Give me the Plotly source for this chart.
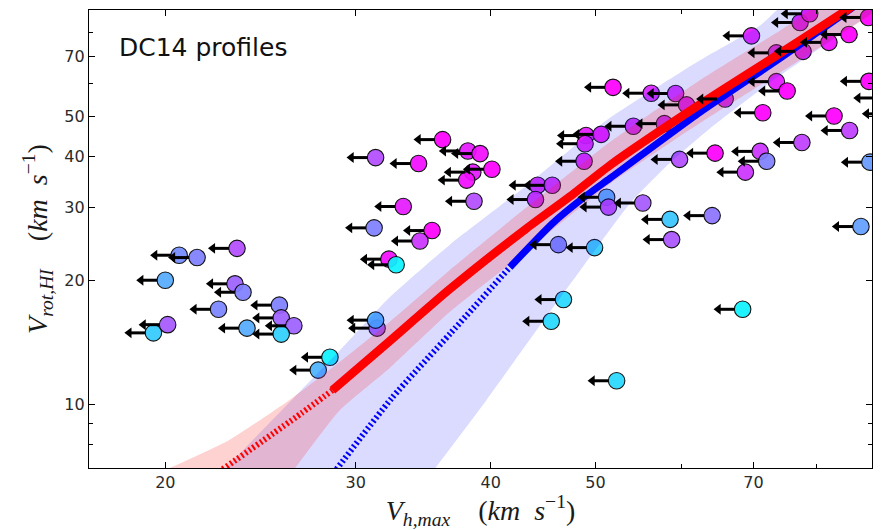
import numpy as np
import plotly.graph_objects as go

# ---------------- data ----------------
# galaxies: V_h,max (upper limits, km/s), V_rot,HI (km/s), colour value (cool map 0..1)
vh = [23.3, 20.6, 21.4, 20.0, 23.2, 23.6, 22.4, 25.5, 25.6, 26.3, 23.8, 25.6, 19.5, 20.1, 28.4, 27.7,
      31.3, 34.3, 36.1, 38.1, 39.1, 40.1, 38.5, 38.0, 38.6, 33.2, 31.2, 35.3, 34.4, 32.2, 32.7, 31.4, 31.3,
      44.2, 45.6, 44.0, 46.2, 49.9, 46.7, 45.5, 52.3, 49.0, 50.6, 48.9, 48.8, 51.2, 51.4,
      51.9, 56.3, 59.3, 60.7, 54.2, 57.9, 65.9, 73.5, 75.2, 71.4, 83.1, 85.9, 77.6, 64.5, 71.0, 72.0,
      59.8, 68.8, 55.3, 58.6, 64.1, 58.8, 88.0, 68.4, 69.7, 77.3, 78.9, 82.2, 85.8, 77.8, 73.5,
      89.4, 89.5, 89.7, 92.1, 93.8]
vrot = [23.9, 23.0, 22.7, 20.0, 19.6, 18.7, 17.0, 17.4, 16.2, 15.5, 15.3, 14.8, 14.9, 15.6, 13.0, 12.1,
        39.7, 38.4, 43.9, 41.2, 40.6, 37.2, 36.6, 35.0, 31.1, 30.2, 26.8, 26.4, 24.9, 22.5, 21.8, 15.3, 16.0,
        34.0, 34.0, 31.4, 24.4, 24.0, 17.95, 15.9, 11.4, 44.9, 45.2, 42.9, 38.9, 31.8, 30.1,
        58.8, 56.9, 56.8, 53.3, 47.3, 48.0, 55.1, 60.7, 57.6, 51.0, 50.1, 46.2, 43.2, 40.7, 41.1, 38.9,
        39.3, 36.6, 30.8, 28.1, 28.7, 25.1, 27.0, 17.0, 78.4, 84.5, 88.7, 75.6, 79.0, 71.9, 71.3,
        86.9, 60.8, 38.7, 55.4, 50.7]
cval = [0.70, 0.45, 0.50, 0.33, 0.62, 0.50, 0.48, 0.50, 0.62, 0.62, 0.33, 0.18, 0.20, 0.65, 0.05, 0.30,
        0.70, 0.95, 1.00, 0.90, 0.95, 1.00, 0.90, 0.95, 0.70, 0.90, 0.50, 1.00, 0.80, 0.95, 0.05, 0.65, 0.30,
        0.85, 0.85, 0.85, 0.50, 0.20, 0.15, 0.15, 0.15, 0.90, 0.95, 0.90, 0.90, 0.35, 0.75,
        1.00, 0.85, 0.85, 0.90, 0.85, 0.85, 0.85, 0.90, 1.00, 1.00, 1.00, 0.75, 0.75, 1.00, 0.80, 0.50,
        0.70, 0.80, 0.65, 0.22, 0.55, 0.67, 0.38, 0.05, 0.90, 0.90, 0.95, 0.95, 1.00, 0.90, 0.85,
        1.00, 1.00, 0.40, 1.00, 1.00]

# DC14 relations (red) and second relation (blue); dotted below the solid_from value
red_x = [22.6, 26.73, 28.55, 32.18, 36.64, 43.18, 47.64, 51.55, 62.45, 74.06, 84.73, 87.8]
red_y = [6.95, 9.51, 10.81, 14.16, 19.01, 26.74, 32.33, 38.02, 53.45, 71.1, 89.4, 95.0]
red_solid_from = 28.55
blue_x = [28.8, 32.39, 36.72, 41.66, 45.63, 48.66, 51.55, 62.45, 74.06, 84.73, 87.5]
blue_y = [6.95, 10.34, 14.87, 21.50, 27.49, 31.62, 35.34, 51.1, 69.1, 88.4, 94.0]
blue_solid_from = 41.66

# scatter bands (upper / lower edges)
red_up_x = [19.7, 22.9, 26.0, 28.7, 32.2, 36.6, 43.2, 51.5, 62.4, 74.1, 83.3]
red_up_y = [6.8, 8.18, 10.2, 12.4, 15.8, 21.1, 30.1, 43.2, 61.1, 80.8, 98.3]
red_lo_x = [26.05, 29.0, 32.2, 36.6, 43.2, 51.5, 62.4, 74.1, 89.7, 95.6]
red_lo_y = [6.7, 9.67, 12.2, 16.7, 23.6, 34.2, 48.1, 63.9, 87.9, 98.3]
blue_up_x = [22.4, 24.7, 26.7, 29.0, 32.2, 36.6, 43.2, 51.2, 62.4, 71.0, 76.5]
blue_up_y = [6.7, 8.75, 10.8, 13.5, 18.1, 24.3, 34.0, 48.9, 68.3, 83.1, 98.3]
blue_lo_x = [35.1, 39.6, 44.4, 50.5, 53.8, 58.5, 64.5, 72.5, 89.7, 95.6]
blue_lo_y = [6.7, 10.2, 15.5, 24.6, 30.7, 38.4, 47.8, 60.4, 88.4, 98.3]

x_ticks = [20, 30, 40, 50, 70]
x_minor = [60, 80]
y_ticks = [10, 20, 30, 40, 50, 70]
y_minor = [8, 9, 60, 80]

# ---------------- figure ----------------
X_RANGE = [np.log10(17.0), np.log10(90.1)]
Y_RANGE = [np.log10(7.0), np.log10(90.6)]
PLOT_W = 783
px_per_dec = PLOT_W / (X_RANGE[1] - X_RANGE[0])

fig = go.Figure()

# points
fig.add_trace(go.Scatter(
    x=vh, y=vrot, mode="markers",
    marker=dict(size=16.5, color=cval, colorscale=[[0, "#00ffff"], [1, "#ff00ff"]], cmin=0, cmax=1,
                opacity=0.92, line=dict(color="black", width=1.1)),
    hoverinfo="skip"))

# bands
def band(ux, uy, lx, ly, color):
    fig.add_trace(go.Scatter(
        x=list(ux) + list(lx)[::-1], y=list(uy) + list(ly)[::-1],
        mode="lines", fill="toself", fillcolor=color,
        line=dict(width=0, shape="spline", smoothing=0.5), hoverinfo="skip"))

band(blue_up_x, blue_up_y, blue_lo_x, blue_lo_y, "rgba(40,40,255,0.17)")
band(red_up_x, red_up_y, red_lo_x, red_lo_y, "rgba(255,30,30,0.20)")

def relation(xs, ys, split, color, wsolid):
    dx = [x for x in xs if x <= split]
    dy = [y for x, y in zip(xs, ys) if x <= split]
    sx = [x for x in xs if x >= split]
    sy = [y for x, y in zip(xs, ys) if x >= split]
    fig.add_trace(go.Scatter(x=dx, y=dy, mode="lines",
                             line=dict(color=color, width=6, dash="2px,2.6px", shape="spline", smoothing=0.6),
                             hoverinfo="skip"))
    fig.add_trace(go.Scatter(x=sx, y=sy, mode="lines",
                             line=dict(color=color, width=wsolid, shape="spline", smoothing=0.6),
                             hoverinfo="skip"))

relation(blue_x, blue_y, blue_solid_from, "#0000ff", 7)
relation(red_x, red_y, red_solid_from, "#ff0000", 8.5)

# upper-limit arrows
edge = 10 ** (-8 / px_per_dec)
head = 10 ** (-24.3 / px_per_dec)
ax, ay = [], []
for x, y in zip(vh, vrot):
    ax += [x * edge, x * head, None]
    ay += [y, y, None]
fig.add_trace(go.Scatter(x=ax, y=ay, mode="lines", line=dict(color="black", width=3),
                         hoverinfo="skip"))
fig.add_trace(go.Scatter(x=[x * head for x in vh], y=vrot, mode="markers",
                         marker=dict(symbol="triangle-left", size=9.5, color="black", line=dict(width=0)),
                         hoverinfo="skip"))

axis_common = dict(type="log", ticks="inside", ticklen=6, tickwidth=1, tickcolor="black",
                   mirror="allticks", showline=True, linecolor="black", linewidth=1.3,
                   showgrid=False, zeroline=False,
                   tickfont=dict(family="DejaVu Sans", size=16, color="#2a2a2a"))

title_font = dict(family="Liberation Serif", size=28, color="#1a1a1a")
unit = "(<i>km</i>&nbsp;&nbsp;<i>s</i><sup>−1</sup>)"

fig.update_layout(
    width=885, height=530, margin=dict(l=89, r=13, t=10, b=62),
    paper_bgcolor="white", plot_bgcolor="white", showlegend=False,
    xaxis=dict(range=X_RANGE, tickvals=x_ticks, ticktext=[str(v) for v in x_ticks],
               minor=dict(tickvals=x_minor, ticks="inside", ticklen=3.5, tickcolor="black", showgrid=False),
               title=dict(text="<i>V</i><sub><i>h,max</i></sub>&nbsp;&nbsp;&nbsp;&nbsp;" + unit,
                          font=title_font, standoff=4),
               **axis_common),
    yaxis=dict(range=Y_RANGE, tickvals=y_ticks, ticktext=[str(v) for v in y_ticks],
               minor=dict(tickvals=y_minor, ticks="inside", ticklen=3.5, tickcolor="black", showgrid=False),
               title=dict(text="<i>V</i><sub><i>rot,HI</i></sub>&nbsp;&nbsp;&nbsp;&nbsp;" + unit,
                          font=title_font, standoff=8),
               **axis_common),
    annotations=[dict(text="DC14 profiles", xref="paper", yref="paper", x=0.0358, y=0.919,
                      xanchor="left", yanchor="middle", showarrow=False,
                      font=dict(family="DejaVu Sans", size=25, color="#111"))],
)

fig.write_html("out.html")
